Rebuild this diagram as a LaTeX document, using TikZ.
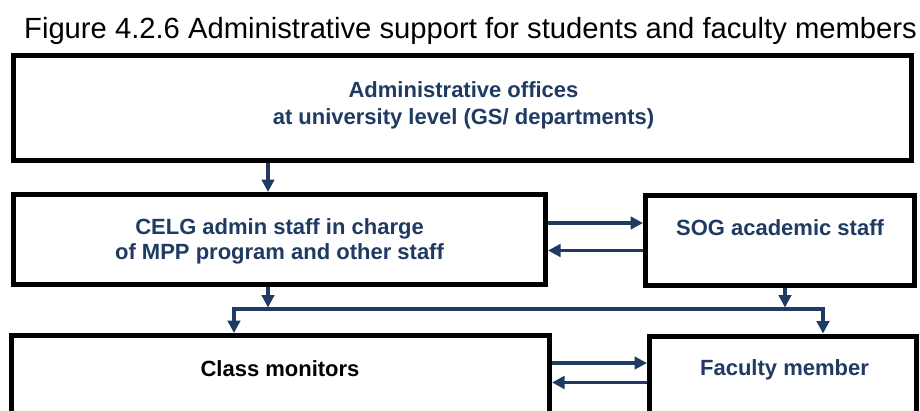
\documentclass[tikz,border=0pt]{standalone}
\usepackage{fontspec}
\setmainfont{Liberation Sans}
\usepackage{tikz}
\usetikzlibrary{arrows.meta}
\definecolor{navy}{HTML}{1F3A63}

\begin{document}
\begin{tikzpicture}
[x=1pt,y=-1pt]
\tikzstyle{thick box}=[rectangle,draw,line width=5pt,inner sep=0]
\tikzstyle{link}=[draw=navy,line width=3.2pt,-{Triangle[length=12.5pt,width=12.5pt]}]
\tikzstyle{blue text}=[text=navy,font=\bfseries\fontsize{22}{27}\selectfont,align=center]

\clip (0,0) rectangle (920,410);

\node(title)[anchor=base,font=\fontsize{29.2}{34}\selectfont] at (470.5,38)
  {Figure 4.2.6 Administrative support for students and faculty members};

\node(top)[thick box,minimum width=898,minimum height=104.5] at (462,107.75) {};
\node(celg)[thick box,minimum width=532,minimum height=90] at (279.5,239.5) {};
\node(sog)[thick box,minimum width=269,minimum height=90] at (780,240) {};
\node(class)[thick box,minimum width=538.5,minimum height=110] at (280.25,390.5) {};
\node(fac)[thick box,minimum width=267,minimum height=110] at (783,391) {};

\node[blue text] at (463.5,105.8) {Administrative offices\\at university level (GS/ departments)};
\node[blue text,font=\bfseries\fontsize{22}{25}\selectfont] at (279.5,241.8) {CELG admin staff in charge\\of MPP program and other staff};
\node[blue text,anchor=base] at (780,235) {SOG academic staff};
\node[anchor=base,font=\bfseries\fontsize{22}{27}\selectfont] at (280,376) {Class monitors};
\node[blue text,anchor=base] at (784.5,375) {Faculty member};

\coordinate(bus) at (500,309);

\draw[link] ([xshift=-194pt]top.south) -- ([xshift=-194pt]top.south |- celg.north);
\draw[link] ([yshift=16.5pt]celg.east) -- ([yshift=16.5pt]celg.east -| sog.west);
\draw[link] ([yshift=-10.5pt]sog.west) -- ([yshift=-10.5pt]sog.west -| celg.east);
\draw[link] ([xshift=-11.5pt]celg.south) -- ([xshift=-11.5pt,yshift=1.5pt]celg.south |- bus);
\draw[link] ([xshift=5pt]sog.south) -- ([xshift=5pt,yshift=1.5pt]sog.south |- bus);
\draw[link,{Triangle[length=12.5pt,width=12.5pt]}-{Triangle[length=12.5pt,width=12.5pt]}]
  ([xshift=-46.25pt]class.north) |- (bus) -| ([xshift=40pt]fac.north);
\draw[link] ([yshift=27.5pt]class.east) -- ([yshift=27.5pt]class.east -| fac.west);
\draw[link] ([yshift=8.5pt]fac.west) -- ([yshift=8.5pt]fac.west -| class.east);
\end{tikzpicture}
\end{document}
